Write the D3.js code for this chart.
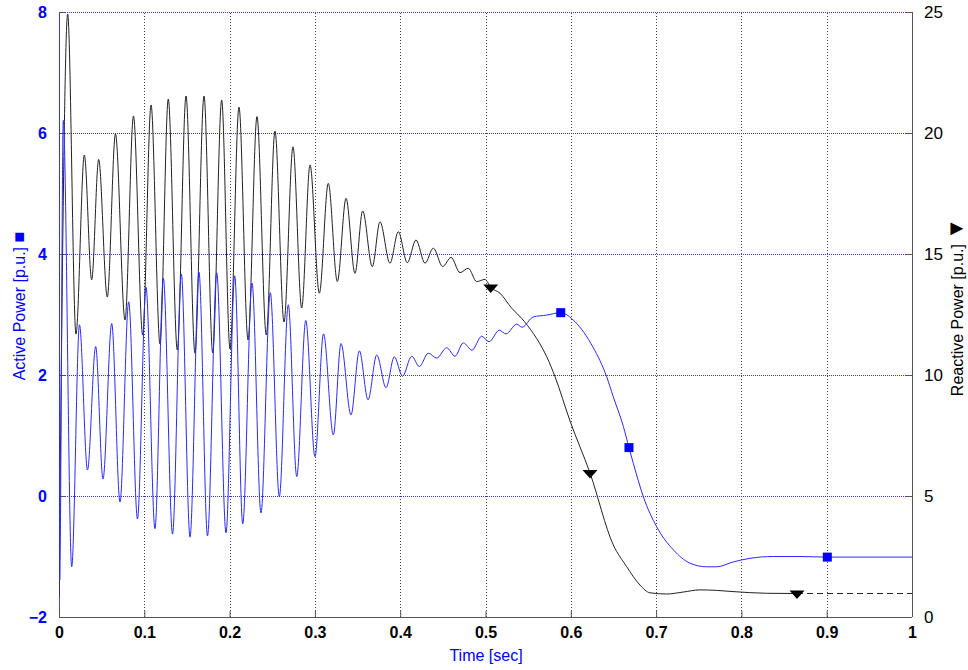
<!DOCTYPE html>
<html><head><meta charset="utf-8">
<script src="https://cdn.jsdelivr.net/npm/d3@7"></script>
<style>body{margin:0;background:#fff;} svg{display:block;}</style>
</head><body>
<script>
// ---------- data ----------
const xTicks = [0, 0.1, 0.2, 0.3, 0.4, 0.5, 0.6, 0.7, 0.8, 0.9, 1];
const xTickLabels = ["0", "0.1", "0.2", "0.3", "0.4", "0.5", "0.6", "0.7", "0.8", "0.9", "1"];
const leftTicks = [-2, 0, 2, 4, 6, 8];
const rightTicks = [0, 5, 10, 15, 20, 25];

// Active power (left axis) (extremes and shape points)
const activeTime = [0, 0.0008, 0.0050, 0.0149, 0.0240, 0.0334, 0.0430, 0.0516, 0.0618, 0.0715,
  0.0817, 0.0920, 0.1020, 0.1125, 0.1223, 0.1331, 0.1434, 0.1536, 0.1641, 0.1741,
  0.1849, 0.1958, 0.2060, 0.2154, 0.2263, 0.2368, 0.2477, 0.2583, 0.2688, 0.2787,
  0.2893, 0.3001, 0.3101, 0.3216, 0.3306, 0.3423, 0.3521, 0.3623, 0.3725, 0.3834,
  0.3931, 0.4027, 0.4135, 0.4224, 0.4329, 0.4428, 0.4545, 0.4642, 0.4740, 0.4842,
  0.4955, 0.5041, 0.5162, 0.5240, 0.5366, 0.5428, 0.5560, 0.5717, 0.5882, 0.6049,
  0.6260, 0.6421, 0.6498, 0.6616, 0.6682, 0.6733, 0.6850, 0.7007, 0.7202, 0.7397,
  0.7593, 0.7710, 0.7905, 0.8101, 0.8374, 0.8687, 0.9007, 0.9496, 1.0];
const activeValue = [8.0, -1.39, 6.21, -1.17, 2.83, 0.43, 2.47, 0.28, 2.85, -0.10,
  3.21, -0.38, 3.45, -0.54, 3.60, -0.63, 3.67, -0.68, 3.70, -0.66,
  3.69, -0.61, 3.64, -0.46, 3.52, -0.28, 3.36, -0.01, 3.16, 0.32,
  2.90, 0.65, 2.68, 1.01, 2.52, 1.34, 2.40, 1.59, 2.33, 1.79,
  2.30, 1.98, 2.31, 2.14, 2.36, 2.28, 2.45, 2.31, 2.53, 2.41,
  2.64, 2.55, 2.74, 2.68, 2.84, 2.79, 2.96, 2.99, 3.03, 2.88,
  2.46, 1.97, 1.64, 1.15, 0.80, 0.54, -0.01, -0.51, -0.89, -1.11,
  -1.17, -1.17, -1.09, -1.03, -1.00, -1.00, -1.01, -1.01, -1.01];

// Reactive power (right axis)
const reactiveTime = [0, 0.0102, 0.0199, 0.0297, 0.0383, 0.0465, 0.0566, 0.0662, 0.0774, 0.0873,
  0.0981, 0.1079, 0.1184, 0.1281, 0.1387, 0.1489, 0.1594, 0.1700, 0.1802, 0.1907,
  0.2005, 0.2110, 0.2216, 0.2321, 0.2430, 0.2532, 0.2638, 0.2743, 0.2845, 0.2943,
  0.3052, 0.3157, 0.3263, 0.3365, 0.3470, 0.3560, 0.3673, 0.3763, 0.3880, 0.3978,
  0.4083, 0.4185, 0.4291, 0.4388, 0.4498, 0.4596, 0.4701, 0.4798, 0.4897, 0.4994,
  0.5061, 0.5170, 0.5307, 0.5424, 0.5560, 0.5717, 0.5815, 0.5991, 0.6225,
  0.6498, 0.6655, 0.6811, 0.6928, 0.7124, 0.7315, 0.7515, 0.7710, 0.7902, 0.8296, 0.8652];
const reactiveValue = [0.83, 24.92, 11.69, 19.09, 13.93, 18.91, 13.22, 19.96, 12.27, 20.70,
  11.65, 21.16, 11.28, 21.40, 11.03, 21.53, 10.90, 21.53, 10.91, 21.36,
  11.07, 21.07, 11.45, 20.68, 11.65, 20.08, 12.19, 19.43, 12.77, 18.68,
  13.38, 17.92, 13.86, 17.30, 14.20, 16.78, 14.48, 16.33, 14.62, 15.92,
  14.64, 15.58, 14.62, 15.24, 14.48, 14.86, 14.23, 14.41, 13.86, 13.95,
  13.62, 13.38, 12.76, 12.34, 11.72, 10.76, 9.93, 8.10, 5.95,
  2.98, 2.08, 1.32, 1.00, 0.95, 1.03, 1.12, 1.10, 1.05, 0.98, 0.97];
const reactiveDashTime = [0.8652, 1.0];
const reactiveDashValue = [0.97, 0.97];

// Markers
const activeMarkerTime = [0.5882, 0.6682, 0.9007];
const activeMarkerValue = [3.03, 0.80, -1.01];
const reactiveMarkerTime = [0.5061, 0.6225, 0.8652];
const reactiveMarkerValue = [13.62, 5.95, 0.97];

// ---------- chart ----------
const W = 968, H = 670;
const x = d3.scaleLinear().domain([0, 1]).range([59, 912]);
const yL = d3.scaleLinear().domain([-2, 8]).range([617, 12]);
const yR = d3.scaleLinear().domain([0, 25]).range([617, 12]);
const FONT = "'Liberation Sans', Arial, sans-serif";

const svg = d3.select("body").append("svg").attr("width", W).attr("height", H)
  .style("font-family", FONT);

svg.append("defs").append("clipPath").attr("id", "clip")
  .append("rect").attr("x", 59).attr("y", 11).attr("width", 853).attr("height", 607);

// vertical grid
const gx = svg.append("g").attr("transform", "translate(0,617)")
  .call(d3.axisBottom(x).tickValues(xTicks).tickSize(-605).tickFormat(""));
gx.select(".domain").remove();
gx.selectAll("line").attr("stroke", "#444").attr("stroke-dasharray", "1,2").attr("shape-rendering", "crispEdges");

// horizontal grid
const gy = svg.append("g").attr("transform", "translate(59,0)")
  .call(d3.axisLeft(yL).tickValues(leftTicks).tickSize(-853).tickFormat(""));
gy.select(".domain").remove();
gy.selectAll("line").attr("stroke", "#3333ff").attr("stroke-dasharray", "1,1").attr("shape-rendering", "crispEdges");

// spines
const frame = svg.append("g").attr("stroke", "#555").attr("fill", "none").attr("shape-rendering", "crispEdges");
frame.append("line").attr("x1", 59).attr("x2", 912).attr("y1", 617).attr("y2", 617);
frame.append("line").attr("x1", 912).attr("x2", 912).attr("y1", 12).attr("y2", 617);
frame.append("line").attr("x1", 59).attr("x2", 59).attr("y1", 12).attr("y2", 617).attr("stroke", "#4444ff");

// axes with labels
const axB = svg.append("g").attr("transform", "translate(0,617)")
  .call(d3.axisBottom(x).tickValues(xTicks).tickSizeInner(-6).tickSizeOuter(0)
    .tickPadding(10).tickFormat((d, i) => xTickLabels[i]));
axB.select(".domain").remove();
axB.selectAll("line").attr("stroke", "#555");
axB.selectAll("text").attr("font-size", 16).attr("font-weight", "bold").attr("fill", "#000")
  .attr("font-family", FONT);

const axL = svg.append("g").attr("transform", "translate(59,0)")
  .call(d3.axisLeft(yL).tickValues(leftTicks).tickSizeInner(-6).tickSizeOuter(0).tickPadding(12));
axL.select(".domain").remove();
axL.selectAll("line").attr("stroke", "#555");
axL.selectAll("text").attr("font-size", 16).attr("font-weight", "bold").attr("fill", "#0000ff")
  .attr("font-family", FONT);

const axR = svg.append("g").attr("transform", "translate(912,0)")
  .call(d3.axisRight(yR).tickValues(rightTicks).tickSizeInner(-6).tickSizeOuter(0).tickPadding(12));
axR.select(".domain").remove();
axR.selectAll("line").attr("stroke", "#555");
axR.selectAll("text").attr("font-size", 17).attr("fill", "#000").attr("font-family", FONT);

// series
const plot = svg.append("g").attr("clip-path", "url(#clip)");
const lineL = d3.line().x(d => x(d[0])).y(d => yL(d[1])).curve(d3.curveMonotoneX);
const lineR = d3.line().x(d => x(d[0])).y(d => yR(d[1])).curve(d3.curveMonotoneX);

plot.append("path").datum(reactiveTime.map((t, i) => [t, reactiveValue[i]]))
  .attr("d", lineR).attr("fill", "none").attr("stroke", "#222").attr("stroke-width", 1);
plot.append("path").datum(reactiveDashTime.map((t, i) => [t, reactiveDashValue[i]]))
  .attr("d", lineR).attr("fill", "none").attr("stroke", "#222").attr("stroke-width", 1)
  .attr("stroke-dasharray", "6,4");
plot.append("path").datum(activeTime.map((t, i) => [t, activeValue[i]]))
  .attr("d", lineL).attr("fill", "none").attr("stroke", "#2a2aff").attr("stroke-width", 1);

// markers
svg.append("g").selectAll("rect").data(activeMarkerTime).join("rect")
  .attr("x", (d, i) => x(d) - 4.5).attr("y", (d, i) => yL(activeMarkerValue[i]) - 4.5)
  .attr("width", 9).attr("height", 9).attr("fill", "#0000ff");
svg.append("g").selectAll("path").data(reactiveMarkerTime).join("path")
  .attr("transform", (d, i) => `translate(${x(d)},${yR(reactiveMarkerValue[i])})`)
  .attr("d", "M-7.5,-3 L7.5,-3 L0,5.5 Z").attr("fill", "#000");

// titles
const tL = svg.append("text").attr("transform", "translate(25,306) rotate(-90)")
  .attr("text-anchor", "middle").attr("font-size", 16).attr("fill", "#0000ff");
tL.append("tspan").text("Active Power [p.u.] ");
tL.append("tspan").attr("font-size", 18).text("\u25A0");
const tR = svg.append("text").attr("transform", "translate(963,307) rotate(-90)")
  .attr("text-anchor", "middle").attr("font-size", 16).attr("fill", "#000");
tR.append("tspan").text("Reactive Power [p.u.] ");
tR.append("tspan").attr("font-size", 22).text("\u25BC");
svg.append("text").attr("x", 486).attr("y", 661)
  .attr("text-anchor", "middle").attr("font-size", 16).attr("fill", "#0000ff")
  .text("Time [sec]");
</script>
</body></html>
